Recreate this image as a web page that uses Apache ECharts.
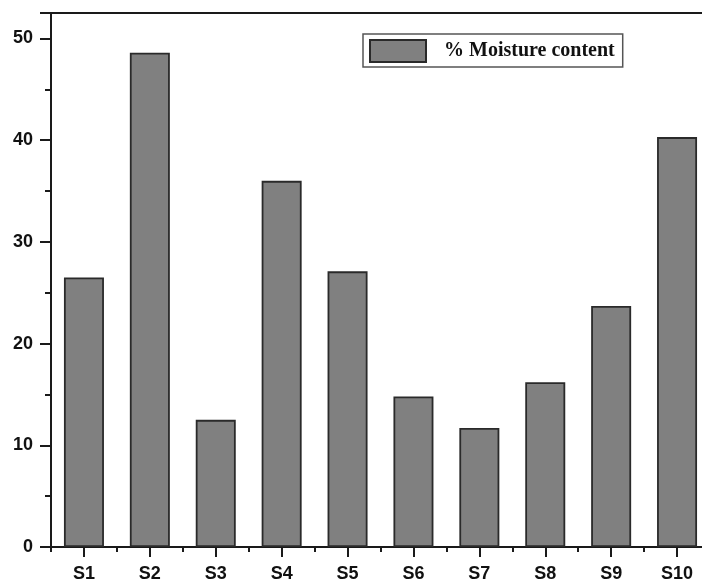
<!DOCTYPE html>
<html>
<head>
<meta charset="utf-8">
<script src="https://cdn.jsdelivr.net/npm/echarts@6/dist/echarts.min.js"></script>
<style>
  html, body { margin: 0; padding: 0; background: #fff; }
  #chart { width: 702px; height: 580px; }
</style>
</head>
<body>
<div id="chart"></div>
<script>
// Sample labels and measured moisture content (%)
const samples = ['S1', 'S2', 'S3', 'S4', 'S5', 'S6', 'S7', 'S8', 'S9', 'S10'];
const moisture = [26.5, 48.6, 12.5, 36.0, 27.1, 14.8, 11.7, 16.2, 23.7, 40.3];
const seriesName = '% Moisture content';

const axisColor = '#1a1a1a';
const chart = echarts.init(document.getElementById('chart'), null, { renderer: 'canvas' });

chart.setOption({
  animation: false,
  backgroundColor: '#ffffff',
  // plot frame runs slightly past the right edge of the canvas
  grid: {
    left: 51, right: -8, top: 13, bottom: 33,
    containLabel: false,
    outerBoundsMode: 'none'
  },
  legend: {
    data: [seriesName],
    left: 363,
    top: 34,
    padding: [5, 8, 4, 6],
    itemWidth: 56,
    itemHeight: 22,
    borderColor: '#555',
    borderWidth: 1.5,
    icon: 'rect',
    textStyle: {
      fontFamily: '"Liberation Serif", "Times New Roman", serif',
      fontWeight: 'bold',
      fontSize: 20,
      color: '#111',
      padding: [0, 0, 0, 13]
    }
  },
  xAxis: [
    {
      type: 'category',
      data: samples,
      position: 'bottom',
      axisLine: { show: true, lineStyle: { color: axisColor, width: 2 } },
      axisTick: { show: true, alignWithLabel: true, length: 10, lineStyle: { color: axisColor, width: 2 } },
      axisLabel: {
        margin: 18,
        fontFamily: '"Liberation Sans", Arial, sans-serif',
        fontWeight: 'bold',
        fontSize: 18,
        color: '#111'
      },
      splitLine: { show: false }
    },
    {
      // boundary ticks between categories
      type: 'category',
      data: samples,
      position: 'bottom',
      axisLine: { show: false },
      axisTick: { show: true, length: 5, lineStyle: { color: axisColor, width: 2 } },
      axisLabel: { show: false },
      splitLine: { show: false }
    },
    {
      // top frame line
      type: 'category',
      data: samples,
      position: 'top',
      axisLine: { show: true, lineStyle: { color: axisColor, width: 2 } },
      axisTick: { show: false },
      axisLabel: { show: false },
      splitLine: { show: false }
    }
  ],
  yAxis: {
    type: 'value',
    min: 0,
    max: 52.5,
    interval: 10,
    axisLine: { show: true, lineStyle: { color: axisColor, width: 2 } },
    axisTick: { show: true, length: 11, lineStyle: { color: axisColor, width: 2 } },
    minorTick: { show: true, splitNumber: 2, length: 6, lineStyle: { color: axisColor, width: 2 } },
    axisLabel: {
      margin: 18,
      fontFamily: '"Liberation Sans", Arial, sans-serif',
      fontWeight: 'bold',
      fontSize: 18,
      color: '#111',
      showMaxLabel: false
    },
    splitLine: { show: false }
  },
  series: [
    {
      name: seriesName,
      type: 'bar',
      xAxisIndex: 0,
      data: moisture,
      barWidth: 40,
      itemStyle: { color: '#808080', borderColor: '#2a2a2a', borderWidth: 1.8 }
    }
  ]
});
</script>
</body>
</html>
